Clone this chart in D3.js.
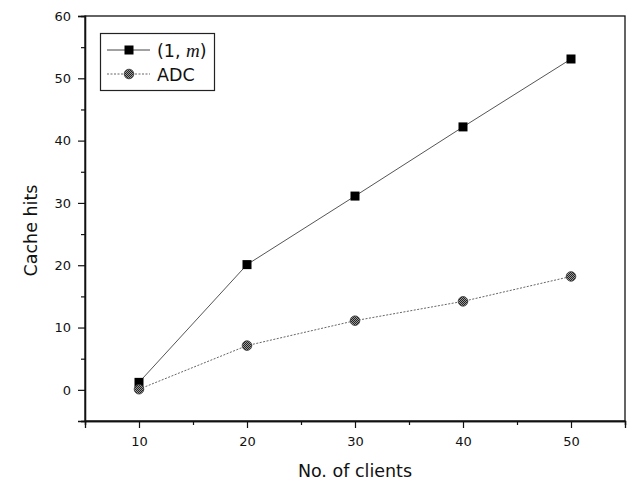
<!DOCTYPE html>
<html>
<head>
<meta charset="utf-8">
<script src="https://cdn.jsdelivr.net/npm/d3@7"></script>
<style>
  html, body { margin: 0; padding: 0; background: #fff; }
  svg { display: block; font-family: "DejaVu Sans", Verdana, sans-serif; }
</style>
</head>
<body>
<svg id="chart" width="631" height="483"></svg>
<script>
// Number of clients on the x axis
const clients = [10, 20, 30, 40, 50];
// Cache hits for each scheme
const hitsOneM = [1.2, 20.1, 31.1, 42.2, 53.1];
const hitsADC = [0.1, 7.1, 11.1, 14.2, 18.2];
// Axis tick labels
const xTickLabels = [10, 20, 30, 40, 50];
const yTickLabels = [0, 10, 20, 30, 40, 50, 60];
const xMinorTicks = [5, 15, 25, 35, 45, 55];
const yMinorTicks = [-5, 5, 15, 25, 35, 45, 55];

const FONT = "\"DejaVu Sans\", Verdana, sans-serif";
const svg = d3.select("#chart");
const margin = { left: 85, right: 6, top: 16, bottom: 62 };
const W = 631, H = 483;

const x = d3.scaleLinear().domain([5, 55]).range([margin.left, W - margin.right]);
const y = d3.scaleLinear().domain([-5, 60]).range([H - margin.bottom, margin.top]);

// crosshatched fill for the circle markers
const defs = svg.append("defs");
const pat = defs.append("pattern").attr("id", "hatch")
  .attr("patternUnits", "userSpaceOnUse").attr("width", 2).attr("height", 2);
pat.append("rect").attr("width", 2).attr("height", 2).attr("fill", "#9a9a9a");
pat.append("rect").attr("width", 1).attr("height", 1).attr("fill", "#222");
pat.append("rect").attr("x", 1).attr("y", 1).attr("width", 1).attr("height", 1).attr("fill", "#222");

// frame
svg.append("rect")
  .attr("x", x(5)).attr("y", y(60))
  .attr("width", x(55) - x(5)).attr("height", y(-5) - y(60))
  .attr("fill", "none").attr("stroke", "#111").attr("stroke-width", 1.3);

// x axis
svg.append("g").attr("transform", `translate(0,${y(-5)})`)
  .call(d3.axisBottom(x).tickValues(xTickLabels).tickSize(7).tickPadding(9).tickFormat(d3.format("d")));
svg.append("g").attr("transform", `translate(0,${y(-5)})`)
  .call(d3.axisBottom(x).tickValues(xMinorTicks).tickSize(4).tickFormat(""));

// y axis
svg.append("g").attr("transform", `translate(${x(5)},0)`)
  .call(d3.axisLeft(y).tickValues(yTickLabels).tickSize(7).tickPadding(7).tickFormat(d3.format("d")));
svg.append("g").attr("transform", `translate(${x(5)},0)`)
  .call(d3.axisLeft(y).tickValues(yMinorTicks).tickSize(4).tickFormat(""));

svg.selectAll(".domain").attr("stroke", "#111").attr("stroke-width", 1.3);
svg.selectAll(".tick line").attr("stroke", "#111").attr("stroke-width", 1.2);
svg.selectAll(".tick text").attr("font-size", 13).attr("fill", "#111")
  .attr("font-family", FONT);

// axis titles
svg.append("text").attr("x", (x(5) + x(55)) / 2).attr("y", 477)
  .attr("text-anchor", "middle").attr("font-size", 17.5).attr("fill", "#111")
  .attr("font-family", FONT)
  .text("No. of clients");
svg.append("text")
  .attr("transform", `translate(37,${(y(-5) + y(60)) / 2 + 12}) rotate(-90)`)
  .attr("text-anchor", "middle").attr("font-size", 17.5).attr("fill", "#111")
  .attr("font-family", FONT)
  .text("Cache hits");

const pts1 = clients.map((c, i) => [c, hitsOneM[i]]);
const pts2 = clients.map((c, i) => [c, hitsADC[i]]);
const line = d3.line().x(d => x(d[0])).y(d => y(d[1]));

svg.append("path").datum(pts1).attr("d", line)
  .attr("fill", "none").attr("stroke", "#555").attr("stroke-width", 1);
svg.append("path").datum(pts2).attr("d", line)
  .attr("fill", "none").attr("stroke", "#666").attr("stroke-width", 1)
  .attr("stroke-dasharray", "2,1.5");

const sq = 9;
svg.selectAll(".sq").data(pts1).enter().append("rect")
  .attr("x", d => x(d[0]) - sq / 2).attr("y", d => y(d[1]) - sq / 2)
  .attr("width", sq).attr("height", sq).attr("fill", "#000");

svg.selectAll(".ci").data(pts2).enter().append("circle")
  .attr("cx", d => x(d[0])).attr("cy", d => y(d[1])).attr("r", 4.8)
  .attr("fill", "url(#hatch)").attr("stroke", "#333").attr("stroke-width", 0.8);

// legend
const lg = svg.append("g");
lg.append("rect").attr("x", 100.5).attr("y", 33.5).attr("width", 114).attr("height", 57)
  .attr("fill", "#fff").attr("stroke", "#222").attr("stroke-width", 1.2);
lg.append("line").attr("x1", 107).attr("x2", 150).attr("y1", 50).attr("y2", 50)
  .attr("stroke", "#444").attr("stroke-width", 1);
lg.append("rect").attr("x", 129 - sq / 2).attr("y", 50 - sq / 2).attr("width", sq).attr("height", sq).attr("fill", "#000");
lg.append("line").attr("x1", 107).attr("x2", 150).attr("y1", 74).attr("y2", 74)
  .attr("stroke", "#666").attr("stroke-width", 1).attr("stroke-dasharray", "2,1.5");
lg.append("circle").attr("cx", 129).attr("cy", 74).attr("r", 4.8)
  .attr("fill", "url(#hatch)").attr("stroke", "#333").attr("stroke-width", 0.8);

const t1 = lg.append("text").attr("x", 157).attr("y", 57).attr("font-size", 17.5).attr("fill", "#111")
  .attr("font-family", FONT);
t1.append("tspan").text("(1, ");
t1.append("tspan").attr("font-family", "\"Liberation Serif\", \"Times New Roman\", serif")
  .attr("font-style", "italic").attr("font-size", 19).text("m");
t1.append("tspan").text(")");
lg.append("text").attr("x", 157).attr("y", 81).attr("font-size", 17.5).attr("fill", "#111")
  .attr("font-family", FONT).text("ADC");
</script>
</body>
</html>
